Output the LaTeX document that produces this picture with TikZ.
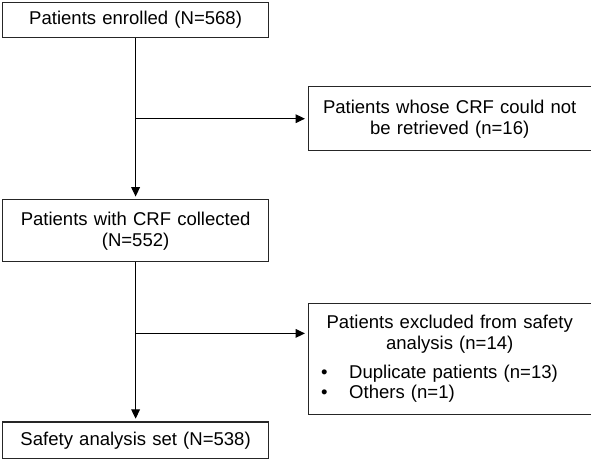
\documentclass[tikz,border=0pt]{standalone}
\usepackage{fontspec}
\setmainfont{Liberation Sans}
\usetikzlibrary{positioning, calc, arrows.meta}
\newcommand{\exclitem}[1]{\makebox[212.25pt][l]{\hspace*{9.75pt}\makebox[21pt][l]{\textbullet}#1}}

\begin{document}
\begin{tikzpicture}[
    x=0.75pt, y=-0.75pt,
    font=\fontsize{13.9pt}{15.75pt}\selectfont,
    block/.style={rectangle, draw=black!85, line width=0.9pt, inner sep=0pt, align=center},
    mainbox/.style={block, text width=199.5pt},
    sidebox/.style={block, text width=212.25pt},
    arrow/.style={-{Triangle[length=7pt, width=6.5pt]}, line width=0.8pt, shorten >=2pt}
  ]
  \useasboundingbox (0,0) rectangle (591,458);
  % 使用相对定位
  \node[mainbox, minimum height=26.25pt, anchor=north west] (enrolled) at (2,2) {Patients enrolled (N=568)};
  \node[mainbox, minimum height=46.5pt, below=120.75pt of enrolled] (collected) {Patients with CRF collected\\(N=552)};
  \node[mainbox, minimum height=27.75pt, below=119.25pt of collected] (safety) {Safety analysis set (N=538)};
  \coordinate (split1) at ($(enrolled.south)!0.5!(collected.north)$);
  \coordinate[below=53.25pt of collected.south] (split2);
  \node[sidebox, minimum height=83.25pt, right=129pt of split2, yshift=-19.125pt] (excluded) {Patients excluded from safety\\analysis (n=14)\\[6pt]\exclitem{Duplicate patients (n=13)}\\[-0.75pt]\exclitem{Others (n=1)}\par\vspace{4.5pt}};
  \node[sidebox, minimum height=48pt, right=129pt of split1] (lost) {Patients whose CRF could not\\be retrieved (n=16)};

  \draw[arrow] (enrolled) -- (collected);
  \draw[arrow] (split1) -- (split1 -| lost.west);
  \draw[arrow] (collected) -- (safety);
  \draw[arrow] (split2) -- (split2 -| excluded.west);
\end{tikzpicture}
\end{document}
